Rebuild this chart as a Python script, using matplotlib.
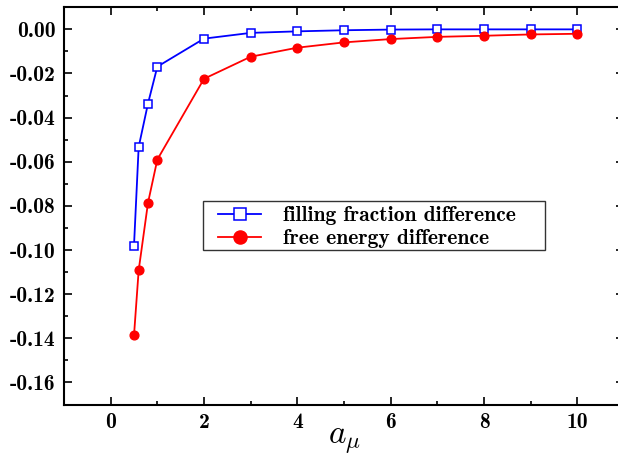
import numpy as np
import matplotlib
matplotlib.use('Agg')
import matplotlib.pyplot as plt
from matplotlib.patches import Rectangle
from matplotlib.ticker import MultipleLocator

plt.rcParams['font.family'] = ['cmb10', 'DejaVu Serif']
plt.rcParams['axes.unicode_minus'] = False
plt.rcParams['mathtext.fontset'] = 'cm'

a_mu = [0.5, 0.6, 0.8, 1.0, 2, 3, 4, 5, 6, 7, 8, 9, 10]
filling_diff = [-0.098, -0.0533, -0.0336, -0.0169, -0.0042, -0.0016, -0.0009,
                -0.0004, -0.0001, 0.0, 0.0, 0.0, 0.0]
energy_diff = [-0.1387, -0.1092, -0.0786, -0.059, -0.0224, -0.0124, -0.0083,
               -0.0059, -0.0044, -0.0034, -0.0029, -0.0023, -0.0020]

W, H = 618, 457
ax_l, ax_r, ax_t, ax_b = 64, 624, 7.3, 404.5
aw, ah = ax_r - ax_l, ax_b - ax_t

fig = plt.figure(figsize=(W / 100, H / 100), dpi=100)
ax = fig.add_axes([ax_l / W, 1 - ax_b / H, aw / W, ah / H])

ax.plot(a_mu, filling_diff, color='blue', lw=1.3, marker='s', ms=5.5,
        mfc='white', mec='blue', mew=1.1, label='filling fraction difference')
ax.plot(a_mu, energy_diff, color='red', lw=1.3, marker='o', ms=6.3,
        mfc='red', mec='red', label='free energy difference')

ax.set_xlim(-1, 11)
ax.set_ylim(-0.17, 0.01)
ax.xaxis.set_major_locator(MultipleLocator(2))
ax.xaxis.set_minor_locator(MultipleLocator(1))
ax.yaxis.set_major_locator(MultipleLocator(0.02))
ax.yaxis.set_minor_locator(MultipleLocator(0.01))
ax.yaxis.set_major_formatter(plt.FuncFormatter(lambda v, p: f'{v:.2f}'))

ax.tick_params(which='both', direction='in', top=True, right=True, width=1.2)
ax.tick_params(which='major', length=6, labelsize=15.5, pad=6)
ax.tick_params(which='minor', length=3)
for s in ax.spines.values():
    s.set_linewidth(1.5)

ax.set_xlabel(r'$a_\mu$', fontsize=24, labelpad=-4)

# legend frame drawn separately so it can be wider than the entries
ax.add_patch(Rectangle(((203 - ax_l) / aw, (ax_b - 250) / ah), (545 - 203) / aw, 49 / ah,
                       transform=ax.transAxes, fill=False, edgecolor='#333333',
                       lw=1.0, zorder=5))
leg = ax.legend(loc='upper left', bbox_to_anchor=((218 - ax_l) / aw, (ax_b - 206) / ah),
                fontsize=15.5, frameon=False, borderpad=0, labelspacing=0.2,
                handlelength=2.0, handletextpad=1.0, markerscale=1.5, borderaxespad=0)

fig.savefig('out.png', dpi=100)
